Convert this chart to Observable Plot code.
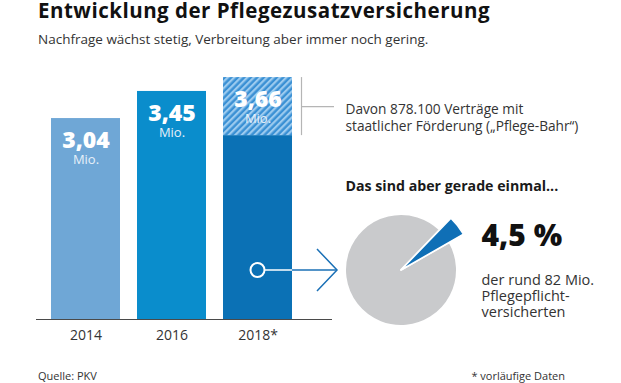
<!DOCTYPE html>
<html><head><meta charset="utf-8">
<script src="https://cdn.jsdelivr.net/npm/d3@7"></script>
<script src="https://cdn.jsdelivr.net/npm/@observablehq/plot@0.6"></script>
<style>
body{margin:0;background:#fff;font-family:"Open Sans",sans-serif;}
#wrap{position:relative;width:621px;height:383px;overflow:hidden;background:#fff;}
#title{position:absolute;left:38px;top:0px;font-size:20.5px;line-height:21px;letter-spacing:0.5px;font-weight:700;color:#111;white-space:nowrap;}
#sub{position:absolute;left:38px;top:30px;font-size:13.5px;line-height:18px;color:#333;white-space:nowrap;}
#chart{position:absolute;left:0;top:50px;}
#src{position:absolute;left:38px;top:369px;font-size:11px;line-height:14px;color:#333;}
#note{position:absolute;right:56px;top:369px;font-size:11px;line-height:14px;color:#333;}
</style></head>
<body>
<div id="wrap">
  <div id="title">Entwicklung der Pflegezusatzversicherung</div>
  <div id="sub">Nachfrage wächst stetig, Verbreitung aber immer noch gering.</div>
  <div id="chart"></div>
  <div id="src">Quelle: PKV</div>
  <div id="note">* vorläufige Daten</div>
</div>
<script>
// ---- data ----
const years = ["2014", "2016", "2018*"];
const totals = [3.04, 3.45, 3.66];               // Mio. Verträge
const valueLabels = ["3,04", "3,45", "3,66"];
const bahr = [0, 0, 0.8781];                      // Mio. Verträge mit staatlicher Förderung
const barColors = ["#6fa7d6", "#0a8dcc", "#0b71b5"];
const bahrText = ["Davon 878.100 Verträge mit", "staatlicher Förderung („Pflege-Bahr“)"];
const pieValues = [4.5, 95.5];                    // Prozent der Pflegepflichtversicherten
const pieNames = ["Pflegezusatzversichert", "übrige"];
const pieColors = ["#0f6fb6", "#c9cacc"];
const pieHeadline = "Das sind aber gerade einmal...";
const pieValueLabel = "4,5 %";
const pieNote = ["der rund 82 Mio.", "Pflegepflicht-", "versicherten"];

const rows = years.map((year, i) => ({
  year, total: totals[i], label: valueLabels[i], bahr: bahr[i], base: totals[i] - bahr[i]
}));
const hatchRows = rows.filter(d => d.bahr > 0);
const pieData = pieValues.map((v, i) => ({name: pieNames[i], value: v, color: pieColors[i]}));

const FONT = "Open Sans";

// pattern definitions
const defsMark = () => {
  const defs = d3.create("svg:defs");
  const p = defs.append("pattern").attr("id", "hatch").attr("patternUnits", "userSpaceOnUse")
    .attr("width", 4.6).attr("height", 10).attr("patternTransform", "rotate(45)");
  p.append("rect").attr("width", 4.6).attr("height", 10).attr("fill", "#3a90d4");
  p.append("rect").attr("width", 2.2).attr("height", 10).attr("fill", "#9ccbef");
  return defs.node();
};

// connector arrow + pie chart
const pieMark = (index, {x, y}) => {
  const g = d3.create("svg:g");
  const target = hatchRows[0].year;
  const bw = x.bandwidth();
  const cx = x(target) + bw / 2;
  const right = x(target) + bw;
  const cy = y(0) - 49;
  const tip = right + 45;
  g.append("line").attr("x1", cx + 7).attr("x2", right).attr("y1", cy).attr("y2", cy)
    .attr("stroke", "white").attr("stroke-width", 1.5);
  g.append("circle").attr("cx", cx).attr("cy", cy).attr("r", 7)
    .attr("fill", "none").attr("stroke", "white").attr("stroke-width", 2);
  g.append("line").attr("x1", right).attr("x2", tip).attr("y1", cy).attr("y2", cy)
    .attr("stroke", "#1a70b6").attr("stroke-width", 1.5);
  g.append("polyline").attr("points", `${tip - 20},${cy - 21} ${tip},${cy} ${tip - 20},${cy + 21}`)
    .attr("fill", "none").attr("stroke", "#1a70b6").attr("stroke-width", 1.5);

  const r = 56;
  const pcx = tip + 8 + r;
  const share = pieData[0].value / d3.sum(pieData, d => d.value) * 2 * Math.PI;
  const mid = 52 * Math.PI / 180;
  const arcs = d3.pie().sort(null).value(d => d.value).startAngle(mid - share / 2).endAngle(mid - share / 2 + 2 * Math.PI)(pieData);
  const pg = g.append("g").attr("transform", `translate(${pcx},${cy})`);
  // grey part first, highlighted slice on top
  pg.append("path").attr("d", d3.arc().innerRadius(0).outerRadius(r)(arcs[1]))
    .attr("fill", arcs[1].data.color).attr("stroke", "white").attr("stroke-width", 2).attr("stroke-linejoin", "round");
  pg.append("path").attr("d", d3.arc().innerRadius(0).outerRadius(r + 16)(arcs[0]))
    .attr("fill", arcs[0].data.color).attr("stroke", "white").attr("stroke-width", 1.5).attr("stroke-linejoin", "miter");
  return g.node();
};

const chart = Plot.plot({
  width: 621,
  height: 310,
  marginLeft: 36,
  marginRight: 289,
  marginTop: 0,
  marginBottom: 41,
  style: {fontFamily: FONT, fontSize: "14px", color: "#333", background: "white"},
  x: {type: "band", domain: years, range: [51, 292.5], paddingInner: 0.2, paddingOuter: 0, align: 0.5,
      tickSize: 0, tickPadding: 11, label: null},
  y: {domain: [0, 4], range: [269, 269 - 4 * 66.1], axis: null},
  color: {domain: years, range: barColors},
  marks: [
    defsMark,
    Plot.barY(rows, {x: "year", y1: 0, y2: "base", fill: "year"}),
    Plot.barY(hatchRows, {x: "year", y1: "base", y2: "total", fill: "url(#hatch)"}),
    Plot.ruleY([0], {stroke: "#4a4a4a", strokeWidth: 1}),
    Plot.text(rows, {x: "year", y: "total", text: "label", dy: 22, fill: "white",
      fontSize: 23, fontWeight: 800, fontFamily: FONT}),
    Plot.text(rows, {x: "year", y: "total", text: () => "Mio.", dy: 41, fill: "#e6f0f9",
      fontSize: 13, fontFamily: FONT}),
    Plot.ruleX(hatchRows, {x: "year", y1: "base", y2: "total", dx: 43.5, stroke: "#b5b5b5", strokeWidth: 1.2}),
    Plot.tickY(hatchRows, {x: "year", y: d => d.total - d.bahr / 2, dx: 78, insetRight: 36, stroke: "#b5b5b5", strokeWidth: 1.2}),
    Plot.text(hatchRows, {x: "year", y: d => d.total - d.bahr / 2, text: () => bahrText.join("\n"),
      dx: 87.5, dy: 10.5, textAnchor: "start", lineHeight: 1.2, fontSize: 13.7, fill: "#333", fontFamily: FONT}),
    pieMark,
    Plot.text([pieHeadline], {frameAnchor: "top-left", text: d => d, dx: 309, dy: 130, textAnchor: "start",
      fontSize: 14.2, fontWeight: 700, fill: "#1a1a1a", fontFamily: FONT}),
    Plot.text([pieValueLabel], {frameAnchor: "top-left", text: d => d, dx: 445, dy: 174, textAnchor: "start",
      fontSize: 30, fontWeight: 800, fill: "#111", fontFamily: FONT}),
    Plot.text([pieNote.join("\n")], {frameAnchor: "top-left", text: d => d, dx: 445, dy: 223, textAnchor: "start",
      lineHeight: 1.1, fontSize: 14.5, fill: "#333", fontFamily: FONT})
  ]
});
document.getElementById("chart").appendChild(chart);
</script>
</body></html>
